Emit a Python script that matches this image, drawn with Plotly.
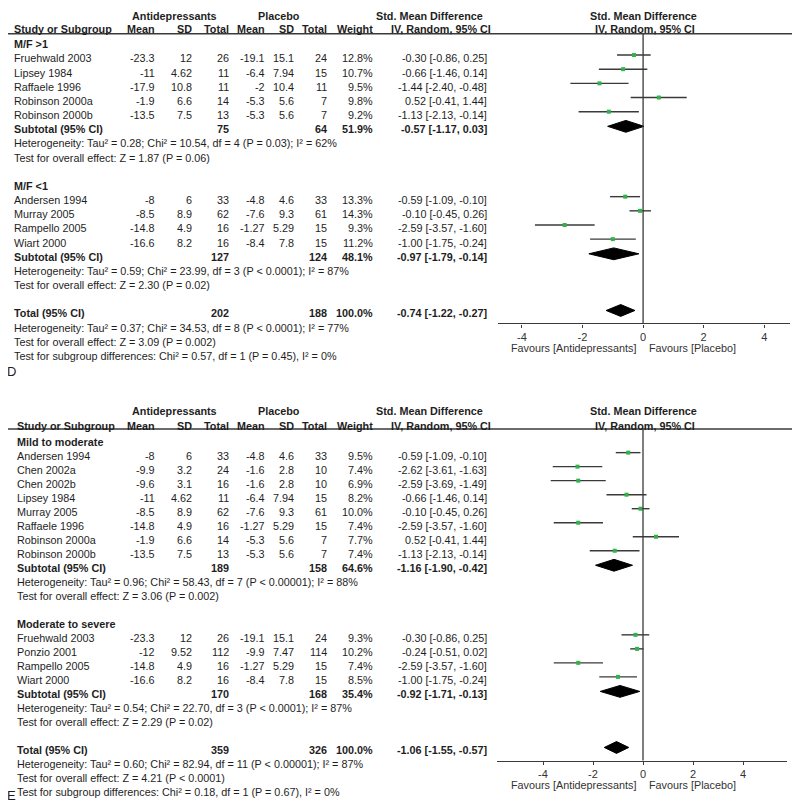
import plotly.graph_objects as go

# ================= Panel D data =================
d_groups = ["M/F >1", "M/F <1"]
d_studies = [["Fruehwald 2003", "Lipsey 1984", "Raffaele 1996", "Robinson 2000a", "Robinson 2000b"],
             ["Andersen 1994", "Murray 2005", "Rampello 2005", "Wiart 2000"]]
d_ad_mean = [[-23.3, -11, -17.9, -1.9, -13.5], [-8, -8.5, -14.8, -16.6]]
d_ad_sd = [[12, 4.62, 10.8, 6.6, 7.5], [6, 8.9, 4.9, 8.2]]
d_ad_n = [[26, 11, 11, 14, 13], [33, 62, 16, 16]]
d_pl_mean = [[-19.1, -6.4, -2, -5.3, -5.3], [-4.8, -7.6, -1.27, -8.4]]
d_pl_sd = [[15.1, 7.94, 10.4, 5.6, 5.6], [4.6, 9.3, 5.29, 7.8]]
d_pl_n = [[24, 15, 11, 7, 7], [33, 61, 15, 15]]
d_weight = [[12.8, 10.7, 9.5, 9.8, 9.2], [13.3, 14.3, 9.3, 11.2]]
d_smd = [[-0.30, -0.66, -1.44, 0.52, -1.13], [-0.59, -0.10, -2.59, -1.00]]
d_lo = [[-0.86, -1.46, -2.40, -0.41, -2.13], [-1.09, -0.45, -3.57, -1.75]]
d_hi = [[0.25, 0.14, -0.48, 1.44, -0.14], [-0.10, 0.26, -1.60, -0.24]]
d_sub_ad_n = [75, 127]
d_sub_pl_n = [64, 124]
d_sub_w = [51.9, 48.1]
d_sub_smd = [-0.57, -0.97]
d_sub_lo = [-1.17, -1.79]
d_sub_hi = [0.03, -0.14]
d_sub_het = ["Heterogeneity: Tau² = 0.28; Chi² = 10.54, df = 4 (P = 0.03); I² = 62%",
             "Heterogeneity: Tau² = 0.59; Chi² = 23.99, df = 3 (P < 0.0001); I² = 87%"]
d_sub_test = ["Test for overall effect: Z = 1.87 (P = 0.06)",
              "Test for overall effect: Z = 2.30 (P = 0.02)"]
d_tot_ad_n, d_tot_pl_n, d_tot_w = 202, 188, 100.0
d_tot_smd, d_tot_lo, d_tot_hi = -0.74, -1.22, -0.27
d_tot_text = ["Heterogeneity: Tau² = 0.37; Chi² = 34.53, df = 8 (P < 0.0001); I² = 77%",
              "Test for overall effect: Z = 3.09 (P = 0.002)",
              "Test for subgroup differences: Chi² = 0.57, df = 1 (P = 0.45), I² = 0%"]

# ================= Panel E data =================
e_groups = ["Mild to moderate", "Moderate to severe"]
e_studies = [["Andersen 1994", "Chen 2002a", "Chen 2002b", "Lipsey 1984", "Murray 2005",
              "Raffaele 1996", "Robinson 2000a", "Robinson 2000b"],
             ["Fruehwald 2003", "Ponzio 2001", "Rampello 2005", "Wiart 2000"]]
e_ad_mean = [[-8, -9.9, -9.6, -11, -8.5, -14.8, -1.9, -13.5], [-23.3, -12, -14.8, -16.6]]
e_ad_sd = [[6, 3.2, 3.1, 4.62, 8.9, 4.9, 6.6, 7.5], [12, 9.52, 4.9, 8.2]]
e_ad_n = [[33, 24, 16, 11, 62, 16, 14, 13], [26, 112, 16, 16]]
e_pl_mean = [[-4.8, -1.6, -1.6, -6.4, -7.6, -1.27, -5.3, -5.3], [-19.1, -9.9, -1.27, -8.4]]
e_pl_sd = [[4.6, 2.8, 2.8, 7.94, 9.3, 5.29, 5.6, 5.6], [15.1, 7.47, 5.29, 7.8]]
e_pl_n = [[33, 10, 10, 15, 61, 15, 7, 7], [24, 114, 15, 15]]
e_weight = [[9.5, 7.4, 6.9, 8.2, 10.0, 7.4, 7.7, 7.4], [9.3, 10.2, 7.4, 8.5]]
e_smd = [[-0.59, -2.62, -2.59, -0.66, -0.10, -2.59, 0.52, -1.13], [-0.30, -0.24, -2.59, -1.00]]
e_lo = [[-1.09, -3.61, -3.69, -1.46, -0.45, -3.57, -0.41, -2.13], [-0.86, -0.51, -3.57, -1.75]]
e_hi = [[-0.10, -1.63, -1.49, 0.14, 0.26, -1.60, 1.44, -0.14], [0.25, 0.02, -1.60, -0.24]]
e_sub_ad_n = [189, 170]
e_sub_pl_n = [158, 168]
e_sub_w = [64.6, 35.4]
e_sub_smd = [-1.16, -0.92]
e_sub_lo = [-1.90, -1.71]
e_sub_hi = [-0.42, -0.13]
e_sub_het = ["Heterogeneity: Tau² = 0.96; Chi² = 58.43, df = 7 (P < 0.00001); I² = 88%",
             "Heterogeneity: Tau² = 0.54; Chi² = 22.70, df = 3 (P < 0.0001); I² = 87%"]
e_sub_test = ["Test for overall effect: Z = 3.06 (P = 0.002)",
              "Test for overall effect: Z = 2.29 (P = 0.02)"]
e_tot_ad_n, e_tot_pl_n, e_tot_w = 359, 326, 100.0
e_tot_smd, e_tot_lo, e_tot_hi = -1.06, -1.55, -0.57
e_tot_text = ["Heterogeneity: Tau² = 0.60; Chi² = 82.94, df = 11 (P < 0.00001); I² = 87%",
              "Test for overall effect: Z = 4.21 (P < 0.0001)",
              "Test for subgroup differences: Chi² = 0.18, df = 1 (P = 0.67), I² = 0%"]

tick_vals = [-4, -2, 0, 2, 4]
tick_text = ["-4", "-2", "0", "2", "4"]

# ================= styling =================
FONT = "Liberation Sans, Arial, sans-serif"
FS = 10.8
TXT = "#1e1e1e"
LINE = "#3a3a3a"
GREEN = "#2fb34a"
COL_RIGHT = [156, 193, 230, 266, 295, 328, 374]  # right edges of numeric columns (page px)
CI_RIGHT = 488

# the page body has an 8px margin, so the figure is sized to fill the rest of the window
OFF = 8
PW, PH = 800, 805
W, H = PW - OFF, PH - OFF
Y_TOP = -2.5  # layout coordinate shown at the top edge of the figure

fig = go.Figure()
annotations = []
shapes = []


def g(v):
    return f"{v:g}"


def ci(m, lo, hi):
    return f"{m:.2f} [{lo:.2f}, {hi:.2f}]"


def txt(x, y, s, anchor="left", bold=False, size=FS, xref="x", xshift=0, color=TXT):
    annotations.append(dict(x=x, y=y, xref=xref, yref="y", text=(f"<b>{s}</b>" if bold else s),
                            showarrow=False, xanchor=anchor, yanchor="middle", xshift=xshift,
                            borderpad=0, font=dict(family=FONT, size=size, color=color)))


def panel(P, xa, y0, dy, lab_x, hdr1, hdr2, rule_y, axis_y, letter, letter_y):
    xr = xa.replace("axis", "")
    # headers
    txt(174, hdr1, "Antidepressants", "center", True)
    txt(279, hdr1, "Placebo", "center", True)
    txt(484, hdr1, "Std. Mean Difference", "right", True)
    txt(0, hdr1, "Std. Mean Difference", "center", True, xref=xr)
    heads = ["Mean", "SD", "Total", "Mean", "SD", "Total", "Weight"]
    txt(lab_x, hdr2, "Study or Subgroup", "left", True)
    for xx, hh in zip(COL_RIGHT, heads):
        txt(xx, hdr2, hh, "right", True)
    txt(492, hdr2, "IV, Random, 95% CI", "right", True)
    txt(0, hdr2, "IV, Random, 95% CI", "center", True, xref=xr, xshift=2)
    shapes.append(dict(type="line", xref="paper", yref="y", x0=0, x1=1, y0=rule_y, y1=rule_y,
                       line=dict(color=LINE, width=1.5)))

    row = 0
    sx, sy, lx, ly = [], [], [], []
    diamonds = []
    for gi, gname in enumerate(P["groups"]):
        y = y0 + row * dy
        txt(lab_x, y, gname, "left", True)
        row += 1
        for si, st in enumerate(P["studies"][gi]):
            y = y0 + row * dy
            txt(lab_x, y, st)
            vals = [g(P["ad_mean"][gi][si]), g(P["ad_sd"][gi][si]), str(P["ad_n"][gi][si]),
                    g(P["pl_mean"][gi][si]), g(P["pl_sd"][gi][si]), str(P["pl_n"][gi][si]),
                    f"{P['weight'][gi][si]:.1f}%"]
            for xx, vv in zip(COL_RIGHT, vals):
                txt(xx, y, vv, "right")
            txt(CI_RIGHT, y, ci(P["smd"][gi][si], P["lo"][gi][si], P["hi"][gi][si]), "right")
            sx.append(P["smd"][gi][si]); sy.append(y - 3.5)
            lx += [P["lo"][gi][si], P["hi"][gi][si], None]
            ly += [y - 3.5, y - 3.5, None]
            row += 1
        y = y0 + row * dy
        txt(lab_x, y, "Subtotal (95% CI)", "left", True)
        txt(COL_RIGHT[2], y, str(P["sub_ad_n"][gi]), "right", True)
        txt(COL_RIGHT[5], y, str(P["sub_pl_n"][gi]), "right", True)
        txt(COL_RIGHT[6], y, f"{P['sub_w'][gi]:.1f}%", "right", True)
        txt(CI_RIGHT, y, ci(P["sub_smd"][gi], P["sub_lo"][gi], P["sub_hi"][gi]), "right", True)
        diamonds.append((P["sub_smd"][gi], P["sub_lo"][gi], P["sub_hi"][gi], y - 3))
        row += 1
        txt(lab_x, y0 + row * dy, P["sub_het"][gi]); row += 1
        txt(lab_x, y0 + row * dy, P["sub_test"][gi]); row += 1
        row += 1
    y = y0 + row * dy
    txt(lab_x, y, "Total (95% CI)", "left", True)
    txt(COL_RIGHT[2], y, str(P["tot"][0]), "right", True)
    txt(COL_RIGHT[5], y, str(P["tot"][1]), "right", True)
    txt(COL_RIGHT[6], y, f"{P['tot'][2]:.1f}%", "right", True)
    txt(CI_RIGHT, y, ci(*P["tot"][3:6]), "right", True)
    diamonds.append((P["tot"][3], P["tot"][4], P["tot"][5], y - 3))
    row += 1
    for t in P["tot_text"]:
        txt(lab_x, y0 + row * dy, t)
        row += 1

    # zero line
    shapes.append(dict(type="line", xref=xr, yref="y", x0=0, x1=0, y0=rule_y, y1=axis_y,
                       line=dict(color=LINE, width=1.3)))
    # CI lines
    fig.add_trace(go.Scatter(x=lx, y=ly, xaxis=xr, yaxis="y", mode="lines",
                             line=dict(color=LINE, width=1.4), hoverinfo="skip", showlegend=False))
    fig.add_trace(go.Scatter(x=sx, y=sy, xaxis=xr, yaxis="y", mode="markers",
                             marker=dict(symbol="square", size=4, color=GREEN), showlegend=False))
    for m, lo, hi, yy in diamonds:
        fig.add_trace(go.Scatter(x=[lo, m, hi, m, lo], y=[yy, yy - 6, yy, yy + 6, yy],
                                 xaxis=xr, yaxis="y", mode="lines", fill="toself",
                                 fillcolor="black", line=dict(color="black", width=1),
                                 hoverinfo="skip", showlegend=False))
    # favours labels
    fav_y = axis_y + 25
    txt(0, fav_y, "Favours [Antidepressants]", "right", xref=xr, xshift=-6, color="#333")
    txt(0, fav_y, "Favours [Placebo]", "left", xref=xr, xshift=5, color="#333")
    txt(OFF, letter_y, letter, "left", size=13, xshift=-2)


panel(dict(groups=d_groups, studies=d_studies, ad_mean=d_ad_mean, ad_sd=d_ad_sd, ad_n=d_ad_n,
           pl_mean=d_pl_mean, pl_sd=d_pl_sd, pl_n=d_pl_n, weight=d_weight, smd=d_smd, lo=d_lo,
           hi=d_hi, sub_ad_n=d_sub_ad_n, sub_pl_n=d_sub_pl_n, sub_w=d_sub_w, sub_smd=d_sub_smd,
           sub_lo=d_sub_lo, sub_hi=d_sub_hi, sub_het=d_sub_het, sub_test=d_sub_test,
           tot=[d_tot_ad_n, d_tot_pl_n, d_tot_w, d_tot_smd, d_tot_lo, d_tot_hi], tot_text=d_tot_text),
      "xaxis2", 34.3, 14.35, 13, 6, 19, 23.5, 317, "D", 366)

panel(dict(groups=e_groups, studies=e_studies, ad_mean=e_ad_mean, ad_sd=e_ad_sd, ad_n=e_ad_n,
           pl_mean=e_pl_mean, pl_sd=e_pl_sd, pl_n=e_pl_n, weight=e_weight, smd=e_smd, lo=e_lo,
           hi=e_hi, sub_ad_n=e_sub_ad_n, sub_pl_n=e_sub_pl_n, sub_w=e_sub_w, sub_smd=e_sub_smd,
           sub_lo=e_sub_lo, sub_hi=e_sub_hi, sub_het=e_sub_het, sub_test=e_sub_test,
           tot=[e_tot_ad_n, e_tot_pl_n, e_tot_w, e_tot_smd, e_tot_lo, e_tot_hi], tot_text=e_tot_text),
      "xaxis3", 437.3, 14.2, 15.5, 406, 421, 424, 760, "E", 795)

forest_axis = dict(showgrid=False, zeroline=False, showline=True, linecolor=LINE, linewidth=1.4,
                   ticks="outside", ticklen=3, tickcolor=LINE, tickwidth=1.4,
                   tickvals=tick_vals, ticktext=tick_text, anchor="free",
                   tickfont=dict(family=FONT, size=11, color="#333"))


def dom(a, b):
    return [(a - OFF) / W, (b - OFF) / W]


def pos(py):
    return (PH - py) / (PH - Y_TOP)


fig.update_layout(
    width=W, height=H, margin=dict(l=0, r=0, t=0, b=0),
    paper_bgcolor="white", plot_bgcolor="rgba(0,0,0,0)",
    xaxis=dict(range=[OFF, PW], visible=False, domain=[0, 1]),
    yaxis=dict(range=[PH, Y_TOP], visible=False, domain=[0, 1]),
    xaxis2=dict(domain=dom(498, 790), range=[-4.79, 4.85], position=pos(317), **forest_axis),
    xaxis3=dict(domain=dom(497, 787), range=[-5.84, 5.76], position=pos(760), **forest_axis),
    annotations=annotations, shapes=shapes, showlegend=False,
)

fig.write_html("out.html")
